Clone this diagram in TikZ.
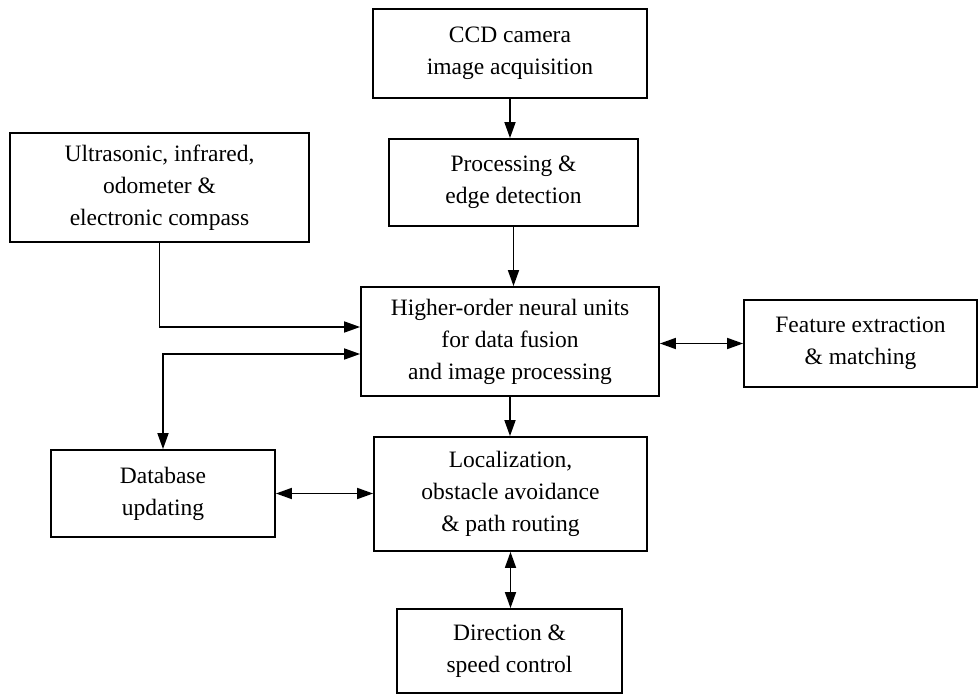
\documentclass[tikz,border=0pt]{standalone}
\usepackage{fontspec}
\setmainfont{Liberation Serif}
\usetikzlibrary{arrows.meta}
\usetikzlibrary{positioning}

\begin{document}
\begin{tikzpicture}[x=1pt,y=-1pt,
    blk/.style={draw, line width=1.8pt, align=center, inner sep=0pt,
      font=\fontsize{23.5}{32}\selectfont},
    arr/.style={line width=1.7pt, -{Triangle[length=16pt,width=11pt]}},
    darr/.style={line width=1.7pt, {Triangle[length=16pt,width=11pt]}-{Triangle[length=16pt,width=11pt]}}]
                \useasboundingbox (0,0) rectangle (980,695);
                % boxes
                \node[blk, minimum width=274pt, minimum height=89pt] (ccd) at (510,53.5) {CCD camera\\image acquisition};
                \node[blk, minimum width=249pt, minimum height=87pt] (proc) at (513.5,182.5) {Processing \&\\edge detection};
                \node[blk, minimum width=299pt, minimum height=109pt] (sens) at (159.5,187.5) {Ultrasonic, infrared,\\odometer \&\\electronic compass};
                \node[blk, minimum width=298pt, minimum height=109pt] (hon) at (510,341.5) {Higher-order neural units\\for data fusion\\and image processing};
                \node[blk, minimum width=233pt, minimum height=87pt] (feat) at (860.5,343.5) {Feature extraction\\\& matching};
                \node[blk, minimum width=224pt, minimum height=87pt] (db) at (163,493.5) {Database\\updating};
                \node[blk, minimum width=273pt, minimum height=114pt] (loc) at (510.5,494) {Localization,\\obstacle avoidance\\\& path routing};
                \node[blk, minimum width=225pt, minimum height=84pt] (dir) at (509.5,651) {Direction \&\\speed control};
                % connectors
                \draw[arr] (ccd.south) -- (ccd.south |- proc.north);
                \draw[arr] (proc.south) -- (proc.south |- hon.north);
                \draw[arr] (sens.south) |- ([yshift=14.5pt]hon.west);
                \draw[darr] ([yshift=-12.5pt]hon.west) -| (db.north);
                \draw[darr] (hon.east |- feat.west) -- (feat.west);
                \draw[arr] (hon.south) -- (hon.south |- loc.north);
                \draw[darr] (db.east) -- (db.east -| loc.west);
                \draw[darr] (loc.south) -- (loc.south |- dir.north);
            \end{tikzpicture}
\end{document}
